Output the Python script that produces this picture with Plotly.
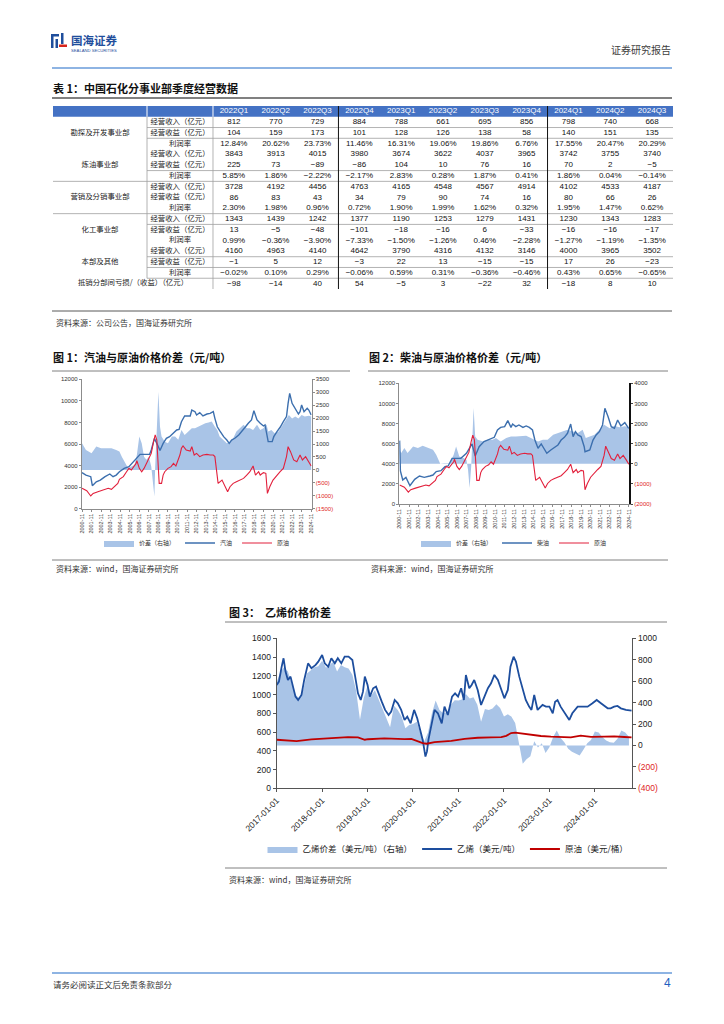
import plotly.graph_objects as go
import pandas as pd

# ======================= DATA =======================
# ---- Table 1 ----
quarters = ["2022Q1", "2022Q2", "2022Q3", "2022Q4", "2023Q1", "2023Q2", "2023Q3",
            "2023Q4", "2024Q1", "2024Q2", "2024Q3"]
segments = ["勘探及开发事业部", "炼油事业部", "营销及分销事业部", "化工事业部", "本部及其他"]
metrics = ["经营收入（亿元）", "经营收益（亿元）", "利润率"]

ep_rev = [812, 770, 729, 884, 788, 661, 695, 856, 798, 740, 668]
ep_profit = [104, 159, 173, 101, 128, 126, 138, 58, 140, 151, 135]
ep_margin = [12.84, 20.62, 23.73, 11.46, 16.31, 19.06, 19.86, 6.76, 17.55, 20.47, 20.29]

ref_rev = [3843, 3913, 4015, 3980, 3674, 3622, 4037, 3965, 3742, 3755, 3740]
ref_profit = [225, 73, -89, -86, 104, 10, 76, 16, 70, 2, -5]
ref_margin = [5.85, 1.86, -2.22, -2.17, 2.83, 0.28, 1.87, 0.41, 1.86, 0.04, -0.14]

mkt_rev = [3728, 4192, 4456, 4763, 4165, 4548, 4567, 4914, 4102, 4533, 4187]
mkt_profit = [86, 83, 43, 34, 79, 90, 74, 16, 80, 66, 26]
mkt_margin = [2.30, 1.98, 0.96, 0.72, 1.90, 1.99, 1.62, 0.32, 1.95, 1.47, 0.62]

chem_rev = [1343, 1439, 1242, 1377, 1190, 1253, 1279, 1431, 1230, 1343, 1283]
chem_profit = [13, -5, -48, -101, -18, -16, 6, -33, -16, -16, -17]
chem_margin = [0.99, -0.36, -3.90, -7.33, -1.50, -1.26, 0.46, -2.28, -1.27, -1.19, -1.35]

hq_rev = [4160, 4963, 4140, 4642, 3790, 4316, 4132, 3146, 4000, 3965, 3502]
hq_profit = [-1, 5, 12, -3, 22, 13, -15, -15, 17, 26, -23]
hq_margin = [-0.02, 0.10, 0.29, -0.06, 0.59, 0.31, -0.36, -0.46, 0.43, 0.65, -0.65]

elim_label = "抵销分部间亏损/（收益）（亿元）"
elim_vals = [-98, -14, 40, 54, -5, 3, -22, 32, -18, 8, 10]

# ---- Figure 1 / 2 (元/吨) ----
gasoline = [("2000-11", 3340), ("2001-04", 3120), ("2001-10", 2970), ("2001-12", 2130),
            ("2002-05", 2500), ("2002-10", 2660), ("2003-04", 2970), ("2003-10", 3220),
            ("2004-02", 2970), ("2004-06", 3120), ("2004-10", 3430), ("2005-04", 3740),
            ("2005-10", 3900), ("2006-04", 4360), ("2006-08", 4670), ("2006-12", 5040),
            ("2007-06", 5040), ("2007-12", 5040), ("2008-02", 5440), ("2008-06", 6520),
            ("2008-10", 5900), ("2009-01", 5400), ("2009-05", 6060), ("2009-09", 6530),
            ("2010-01", 6680), ("2010-06", 6990), ("2010-10", 7300), ("2011-01", 7360),
            ("2011-04", 8070), ("2011-08", 8600), ("2012-03", 8600), ("2012-05", 9150),
            ("2012-09", 9000), ("2012-11", 8690), ("2013-03", 8910), ("2013-07", 8600),
            ("2013-12", 8780), ("2014-04", 8840), ("2014-08", 9000), ("2014-10", 8380),
            ("2015-01", 7600), ("2015-04", 7240), ("2015-09", 6680), ("2016-01", 6370),
            ("2016-04", 6060), ("2016-07", 6370), ("2016-11", 6530), ("2017-04", 6840),
            ("2017-08", 7150), ("2017-12", 7550), ("2018-04", 7920), ("2018-08", 8230),
            ("2018-11", 9090), ("2019-03", 8230), ("2019-07", 7920), ("2019-11", 7670),
            ("2020-01", 7770), ("2020-03", 7050), ("2020-05", 6220), ("2020-10", 6220),
            ("2020-12", 6680), ("2021-04", 7150), ("2021-08", 7550), ("2021-12", 8070),
            ("2022-04", 8540), ("2022-06", 9770), ("2022-08", 10700), ("2022-11", 9770),
            ("2023-03", 9310), ("2023-07", 8780), ("2023-09", 9000), ("2023-11", 9620),
            ("2024-02", 9000), ("2024-06", 9310), ("2024-08", 9150), ("2024-11", 8690)]

crude_cny = [("2000-11", 1890), ("2001-05", 1670), ("2001-10", 1180), ("2002-01", 1420),
             ("2002-07", 1580), ("2003-01", 1730), ("2003-08", 1890), ("2003-12", 1800),
             ("2004-04", 2040), ("2004-08", 2350), ("2004-10", 2720), ("2005-03", 2970),
             ("2005-07", 3430), ("2005-10", 3740), ("2006-01", 3590), ("2006-04", 3900),
             ("2006-07", 4200), ("2006-08", 4450), ("2006-11", 3740), ("2007-02", 3430),
             ("2007-05", 3740), ("2007-08", 4200), ("2007-10", 4520), ("2008-02", 5130),
             ("2008-05", 6220), ("2008-07", 6840), ("2008-09", 6370), ("2008-10", 4670),
             ("2008-12", 2350), ("2009-03", 2350), ("2009-05", 3120), ("2009-07", 3430),
             ("2009-11", 3740), ("2010-03", 3900), ("2010-06", 4200), ("2010-09", 3960),
             ("2010-12", 4520), ("2011-02", 4980), ("2011-04", 5600), ("2011-06", 5820),
             ("2011-10", 5440), ("2012-03", 5350), ("2012-05", 5750), ("2012-08", 4980),
             ("2012-11", 5130), ("2013-03", 4830), ("2013-07", 4980), ("2013-12", 5040),
             ("2014-04", 4980), ("2014-08", 4980), ("2014-10", 4830), ("2014-12", 3280),
             ("2015-02", 2350), ("2015-07", 2660), ("2015-11", 2040), ("2016-02", 1580),
             ("2016-05", 2040), ("2016-09", 2350), ("2017-01", 2500), ("2017-05", 2660),
             ("2017-10", 2810), ("2018-02", 3120), ("2018-06", 3430), ("2018-10", 3960),
             ("2019-01", 3120), ("2019-05", 3430), ("2019-07", 3120), ("2019-11", 3340),
             ("2020-02", 3280), ("2020-04", 1420), ("2020-07", 2040), ("2020-11", 2660),
             ("2021-04", 3120), ("2021-08", 3430), ("2021-12", 3740), ("2022-04", 4830),
             ("2022-06", 5750), ("2022-09", 5290), ("2023-01", 4520), ("2023-05", 4360),
             ("2023-09", 4980), ("2023-12", 4520), ("2024-04", 4830), ("2024-08", 4360),
             ("2024-11", 3960)]

gas_spread = [("2000-11", 1030), ("2001-04", 770), ("2001-11", 640), ("2002-05", 900),
              ("2002-11", 840), ("2003-05", 840), ("2003-12", 840), ("2004-06", 770),
              ("2004-10", 710), ("2005-01", 510), ("2005-05", 260), ("2005-09", 60),
              ("2006-01", 130), ("2006-05", 190), ("2006-08", 580), ("2006-11", 1290),
              ("2007-02", 1030), ("2007-05", 510), ("2007-08", 390), ("2007-11", 510),
              ("2008-02", 130), ("2008-04", -510), ("2008-06", -1030), ("2008-07", 130),
              ("2008-09", 1800), ("2008-11", 3020), ("2009-01", 1670), ("2009-03", 1290),
              ("2009-07", 1090), ("2009-11", 1030), ("2010-04", 1290), ("2010-08", 1290),
              ("2010-12", 1160), ("2011-04", 1540), ("2011-08", 1350), ("2012-01", 1480),
              ("2012-05", 1610), ("2012-09", 1610), ("2013-01", 1670), ("2013-05", 1740),
              ("2013-10", 1800), ("2014-02", 1830), ("2014-06", 1870), ("2014-10", 1670),
              ("2015-01", 1540), ("2015-04", 1290), ("2015-09", 1160), ("2016-01", 1030),
              ("2016-05", 1090), ("2016-09", 1220), ("2017-01", 1480), ("2017-05", 1610),
              ("2017-10", 1740), ("2018-02", 1610), ("2018-06", 1610), ("2018-10", 1540),
              ("2019-03", 1740), ("2019-07", 1540), ("2019-11", 1610), ("2020-03", 1740),
              ("2020-05", 1480), ("2020-09", 1540), ("2021-01", 1420), ("2021-06", 1480),
              ("2021-10", 1670), ("2022-02", 1870), ("2022-07", 2120), ("2022-11", 1990),
              ("2023-03", 2060), ("2023-07", 1990), ("2023-11", 2120), ("2024-03", 2060),
              ("2024-08", 2090), ("2024-11", 2060)]

diesel = [("2000-11", 6300), ("2000-12", 3300), ("2001-03", 2390), ("2001-07", 2650),
          ("2001-12", 1820), ("2002-06", 2450), ("2002-12", 2780), ("2003-06", 2650),
          ("2004-01", 2780), ("2004-05", 2880), ("2004-09", 3220), ("2005-03", 3310),
          ("2005-08", 3710), ("2005-12", 3780), ("2006-05", 4540), ("2006-10", 4540),
          ("2007-04", 4540), ("2007-11", 5040), ("2008-03", 5540), ("2008-06", 5970),
          ("2008-10", 4770), ("2009-03", 5700), ("2009-09", 6200), ("2010-04", 6430),
          ("2010-10", 6630), ("2011-02", 7360), ("2011-06", 7620), ("2011-11", 7690),
          ("2012-03", 8290), ("2012-07", 7620), ("2012-09", 7950), ("2013-01", 7690),
          ("2013-05", 7860), ("2013-10", 7620), ("2014-02", 7760), ("2014-06", 7620),
          ("2014-10", 7360), ("2015-01", 6360), ("2015-05", 5540), ("2015-09", 5970),
          ("2016-01", 5370), ("2016-04", 5040), ("2016-09", 5370), ("2017-02", 5700),
          ("2017-06", 5870), ("2017-10", 6360), ("2018-02", 6630), ("2018-06", 7030),
          ("2018-10", 7950), ("2019-01", 6700), ("2019-04", 7190), ("2019-07", 6860),
          ("2019-11", 6700), ("2020-03", 5700), ("2020-04", 5200), ("2020-10", 5370),
          ("2021-02", 6360), ("2021-06", 6860), ("2021-10", 7190), ("2022-02", 7860),
          ("2022-05", 9510), ("2022-09", 8680), ("2023-01", 7690), ("2023-05", 7520),
          ("2023-09", 8350), ("2024-01", 7760), ("2024-06", 8090), ("2024-10", 7620),
          ("2024-11", 7520)]

diesel_spread = [("2000-11", 700), ("2001-01", 530), ("2001-05", 780), ("2001-09", 530),
                 ("2002-04", 860), ("2002-10", 780), ("2003-04", 900), ("2003-11", 780),
                 ("2004-05", 700), ("2004-09", 450), ("2004-12", 170), ("2005-02", 0),
                 ("2005-07", 20), ("2006-02", 30), ("2006-07", 450), ("2006-10", 860),
                 ("2007-02", 360), ("2007-08", 280), ("2007-11", 200), ("2008-01", -300),
                 ("2008-03", -1210), ("2008-05", -130), ("2008-08", 2770), ("2008-10", 1360),
                 ("2009-01", 1190), ("2009-08", 1110), ("2010-02", 1190), ("2010-08", 1190),
                 ("2010-12", 1280), ("2011-06", 1110), ("2012-01", 1280), ("2012-07", 1360),
                 ("2013-01", 1360), ("2013-08", 1390), ("2014-02", 1390), ("2014-08", 1280),
                 ("2014-12", 1190), ("2015-05", 1110), ("2015-11", 1190), ("2016-05", 1190),
                 ("2016-12", 1440), ("2017-06", 1530), ("2017-12", 1610), ("2018-06", 1690),
                 ("2019-01", 1610), ("2019-07", 1530), ("2020-01", 1690), ("2020-05", 1280),
                 ("2020-10", 1360), ("2021-04", 1440), ("2021-10", 1690), ("2022-04", 1940),
                 ("2022-11", 1770), ("2023-05", 1890), ("2023-11", 1820), ("2024-06", 1860),
                 ("2024-11", 1820)]

fig12_ticks = [str(y) for y in range(2000, 2025)]

# ---- Figure 3 (乙烯) ----
ethylene = [("2017-01-01", 1102), ("2017-01-19", 1138), ("2017-02-10", 1298), ("2017-02-25", 1387),
            ("2017-03-13", 1245), ("2017-04-01", 1156), ("2017-04-22", 1191), ("2017-05-13", 1067),
            ("2017-06-01", 978), ("2017-06-22", 942), ("2017-07-19", 996), ("2017-08-10", 1156),
            ("2017-09-10", 1333), ("2017-10-07", 1280), ("2017-11-10", 1316), ("2017-12-01", 1351),
            ("2018-01-01", 1422), ("2018-01-22", 1333), ("2018-02-19", 1298), ("2018-03-16", 1387),
            ("2018-04-13", 1333), ("2018-05-07", 1387), ("2018-06-04", 1333), ("2018-07-01", 1404),
            ("2018-08-01", 1404), ("2018-09-01", 1369), ("2018-09-25", 1156), ("2018-10-16", 1013),
            ("2018-11-07", 942), ("2018-11-25", 1031), ("2018-12-10", 1191), ("2019-01-01", 1102),
            ("2019-01-19", 978), ("2019-02-15", 1067), ("2019-03-10", 1085), ("2019-04-01", 996),
            ("2019-04-25", 924), ("2019-05-22", 836), ("2019-06-19", 782), ("2019-07-10", 818),
            ("2019-08-07", 942), ("2019-09-01", 907), ("2019-09-28", 836), ("2019-10-25", 729),
            ("2019-11-16", 764), ("2019-12-13", 693), ("2020-01-10", 836), ("2020-02-04", 747),
            ("2020-02-25", 622), ("2020-03-19", 516), ("2020-04-10", 338), ("2020-04-22", 391),
            ("2020-05-04", 516), ("2020-05-25", 658), ("2020-06-22", 836), ("2020-07-19", 800),
            ("2020-08-19", 693), ("2020-09-10", 871), ("2020-10-07", 782), ("2020-11-10", 978),
            ("2020-12-04", 1013), ("2020-12-28", 978), ("2021-01-22", 1067), ("2021-02-13", 942),
            ("2021-03-01", 1209), ("2021-03-28", 1067), ("2021-04-16", 1102), ("2021-05-07", 1156),
            ("2021-06-04", 1049), ("2021-07-01", 889), ("2021-07-28", 978), ("2021-08-25", 1067),
            ("2021-09-19", 1120), ("2021-10-16", 1209), ("2021-11-13", 1156), ("2021-12-10", 1049),
            ("2022-01-04", 960), ("2022-02-01", 1049), ("2022-02-22", 1298), ("2022-03-19", 1404),
            ("2022-04-07", 1351), ("2022-05-04", 1191), ("2022-06-01", 1049), ("2022-06-25", 942),
            ("2022-07-22", 871), ("2022-08-10", 836), ("2022-09-01", 996), ("2022-09-28", 836),
            ("2022-11-07", 889), ("2022-12-04", 871), ("2023-01-01", 871), ("2023-01-28", 800),
            ("2023-02-16", 924), ("2023-03-07", 942), ("2023-04-01", 871), ("2023-05-04", 800),
            ("2023-06-10", 729), ("2023-07-04", 800), ("2023-08-16", 871), ("2023-09-25", 871),
            ("2023-11-04", 871), ("2023-12-13", 907), ("2024-01-16", 942), ("2024-02-19", 907),
            ("2024-03-16", 878), ("2024-04-13", 853), ("2024-05-07", 853), ("2024-06-04", 871),
            ("2024-07-01", 878), ("2024-07-28", 853), ("2024-09-07", 836), ("2024-10-22", 828)]

crude_usd = [("2017-01-01", 53), ("2017-06-10", 41), ("2017-10-07", 56), ("2018-01-22", 62),
             ("2018-05-07", 72), ("2018-07-28", 78), ("2018-10-16", 75), ("2018-12-10", 53),
             ("2019-01-04", 58), ("2019-05-16", 66), ("2019-10-25", 59), ("2019-12-19", 60),
             ("2020-03-19", 22), ("2020-04-20", 16), ("2020-06-22", 31), ("2020-11-04", 42),
             ("2021-02-19", 62), ("2021-06-04", 72), ("2021-09-19", 75), ("2021-12-10", 78),
             ("2022-01-19", 90), ("2022-02-28", 116), ("2022-04-01", 119), ("2022-05-16", 112),
             ("2022-08-07", 96), ("2022-10-25", 88), ("2023-01-13", 82), ("2023-04-04", 80),
             ("2023-06-22", 76), ("2023-09-10", 92), ("2023-12-01", 80), ("2024-03-16", 82),
             ("2024-06-04", 84), ("2024-08-25", 79), ("2024-10-22", 75)]

ethylene_spread_monthly = [594, 688, 730, 690, 580, 470, 440, 516, 672, 703,
                           730, 740, 790, 725, 750, 780, 690, 750, 730, 719,
                           660, 510, 240, 440, 560, 469, 516, 430, 335, 266,
                           170, 370, 330, 270, 160, 190, 200, 220, 110, 40,
                           120, 300, 420, 330, 300, 310, 380, 422, 420, 430,
                           480, 438, 450, 380, 220, 340, 330, 344, 385, 350,
                           270, 290, 270, 210, 20, -170, -130, -100, 40, -20,
                           20, -70, -16, 80, 140, 70, 30, -30, -60, -78,
                           -94, -40, 20, 50, 130, 120, 78, 47, 30, 25,
                           62, 140, 120, 80]
ethylene_spread_start = "2017-01-01"
fig3_ticks = ["2017-01-01", "2018-01-01", "2019-01-01", "2020-01-01",
              "2021-01-01", "2022-01-01", "2023-01-01", "2024-01-01"]

# ======================= STYLE / LAYOUT =======================
W, H = 724, 1024
OFF = 8  # the page body offsets the figure by its default margin
def px(x): return (x - OFF) / W
def py(y): return 1 - (y - OFF) / H

FONT = "Liberation Sans, Noto Sans CJK SC, sans-serif"
CJK = "Noto Sans CJK SC, Liberation Sans, sans-serif"
RED_TXT = "#E02424"
AREA = "#A9C4E7"
BLUE12 = "#3C6FAE"
RED12 = "#E2203C"
BLUE3 = "#1D4E9E"
RED3 = "#C00000"

def unzip(pairs):
    return [p[0] for p in pairs], [p[1] for p in pairs]

def red_paren(v):
    if v < 0:
        return '<span style="color:%s">(%d)</span>' % (RED_TXT, -v)
    return str(v)

fig = go.Figure()

# ---------------- Figure 1 ----------------
d, v = unzip(gas_spread)
fig.add_trace(go.Scatter(x=d, y=v, xaxis="x", yaxis="y", mode="lines", fill="tozeroy",
                         line=dict(width=0, color=AREA), fillcolor=AREA,
                         name="价差（右轴）", legend="legend"))
d, v = unzip(gasoline)
fig.add_trace(go.Scatter(x=d, y=v, xaxis="x", yaxis="y2", mode="lines",
                         line=dict(width=1.4, color=BLUE12), name="汽油", legend="legend"))
d, v = unzip(crude_cny)
fig.add_trace(go.Scatter(x=d, y=v, xaxis="x", yaxis="y2", mode="lines",
                         line=dict(width=1.1, color=RED12), name="原油", legend="legend"))

# ---------------- Figure 2 ----------------
d, v = unzip(diesel_spread)
fig.add_trace(go.Scatter(x=d, y=v, xaxis="x2", yaxis="y3", mode="lines", fill="tozeroy",
                         line=dict(width=0, color=AREA), fillcolor=AREA,
                         name="价差（右轴）", legend="legend2"))
d, v = unzip(diesel)
fig.add_trace(go.Scatter(x=d, y=v, xaxis="x2", yaxis="y4", mode="lines",
                         line=dict(width=1.4, color=BLUE12), name="柴油", legend="legend2"))
d, v = unzip(crude_cny)
fig.add_trace(go.Scatter(x=d, y=v, xaxis="x2", yaxis="y4", mode="lines",
                         line=dict(width=1.1, color=RED12), name="原油", legend="legend2"))

# ---------------- Figure 3 ----------------
sp_dates = pd.date_range(ethylene_spread_start, periods=len(ethylene_spread_monthly), freq="MS")
fig.add_trace(go.Scatter(x=sp_dates, y=ethylene_spread_monthly, xaxis="x3", yaxis="y5",
                         mode="lines", fill="tozeroy", line=dict(width=0, color=AREA),
                         fillcolor=AREA, name="乙烯价差（美元/吨）（右轴）", legend="legend3"))
d, v = unzip(ethylene)
fig.add_trace(go.Scatter(x=d, y=v, xaxis="x3", yaxis="y6", mode="lines",
                         line=dict(width=1.8, color=BLUE3), name="乙烯（美元/吨）", legend="legend3"))
d, v = unzip(crude_usd)
fig.add_trace(go.Scatter(x=d, y=v, xaxis="x3", yaxis="y7", mode="lines",
                         line=dict(width=1.8, color=RED3), name="原油（美元/桶）", legend="legend3"))

# ---------------- Table ----------------
col_w = [94, 66] + [41.82] * len(quarters)
edges = [0]
for w in col_w:
    edges.append(edges[-1] + w)
centers = [(edges[i] + edges[i + 1]) / 2 for i in range(len(col_w))]
qc = centers[2:]

def fmt_int(n):
    return ("−%d" % -n) if n < 0 else "%d" % n

def fmt_pct(p):
    return ("−%.2f%%" % -p) if p < 0 else "%.2f%%" % p

seg_data = [(ep_rev, ep_profit, ep_margin), (ref_rev, ref_profit, ref_margin),
            (mkt_rev, mkt_profit, mkt_margin), (chem_rev, chem_profit, chem_margin),
            (hq_rev, hq_profit, hq_margin)]

vx, vy, vt = [], [], []
lx, ly, lt = [], [], []
for si, (rev, prof, marg) in enumerate(seg_data):
    base = 1 + si * 3
    lx.append(centers[0]); ly.append(base + 1.5); lt.append(segments[si])
    for mi, series in enumerate((rev, prof, marg)):
        r = base + mi
        lx.append(centers[1]); ly.append(r + 0.5); lt.append(metrics[mi])
        for qi, val in enumerate(series):
            vx.append(qc[qi]); vy.append(r + 0.5)
            vt.append(fmt_pct(val) if mi == 2 else fmt_int(val))
last_row = 1 + len(segments) * 3
lx.append((edges[0] + edges[2]) / 2); ly.append(last_row + 0.5); lt.append(elim_label)
for qi, val in enumerate(elim_vals):
    vx.append(qc[qi]); vy.append(last_row + 0.5); vt.append(fmt_int(val))

fig.add_trace(go.Scatter(x=qc, y=[0.5] * len(quarters), text=quarters, mode="text",
                         xaxis="x4", yaxis="y8", showlegend=False, hoverinfo="skip",
                         textfont=dict(family=FONT, size=8, color="white")))
fig.add_trace(go.Scatter(x=vx, y=vy, text=vt, mode="text", xaxis="x4", yaxis="y8",
                         showlegend=False, hoverinfo="skip",
                         textfont=dict(family=FONT, size=8, color="#111111")))
fig.add_trace(go.Scatter(x=lx, y=ly, text=lt, mode="text", xaxis="x4", yaxis="y8",
                         showlegend=False, hoverinfo="skip",
                         textfont=dict(family=CJK, size=7.4, color="#222222")))

# ---------------- Axes ----------------
axis_common = dict(showgrid=False, zeroline=False, showline=True, linecolor="#8c8c8c",
                   linewidth=0.8, ticks="outside", ticklen=2, tickcolor="#8c8c8c")

x12_vals = [t + "-11-01" for t in fig12_ticks]
x12_text = [t + "-11" for t in fig12_ticks]

layout = dict(
    width=W, height=H, margin=dict(l=0, r=0, t=0, b=0, pad=0, autoexpand=False),
    paper_bgcolor="white", plot_bgcolor="white", hovermode=False,
    font=dict(family=FONT, size=7, color="#333333"),
    # fig 1
    xaxis=dict(domain=[px(81.7), px(311.7)], anchor="y", type="date",
               range=["2000-10-20", "2024-11-20"], tickvals=x12_vals, ticktext=x12_text,
               tickangle=-90, tickfont=dict(size=5.5), **axis_common),
    yaxis=dict(domain=[py(508.7), py(379.3)], anchor="x", side="right",
               range=[-1500, 3500], tickvals=list(range(-1500, 3501, 500)),
               ticktext=[red_paren(t) for t in range(-1500, 3501, 500)],
               tickfont=dict(size=6), **axis_common),
    yaxis2=dict(domain=[py(508.7), py(379.3)], anchor="x", overlaying="y", side="left",
                range=[0, 12000], dtick=2000, tickformat="d", tickfont=dict(size=6),
                **axis_common),
    # fig 2
    xaxis2=dict(domain=[px(399.3), px(629.3)], anchor="y3", type="date",
                range=["2000-10-20", "2024-11-20"], tickvals=x12_vals, ticktext=x12_text,
                tickangle=-90, tickfont=dict(size=5.5), **axis_common),
    yaxis3=dict(domain=[py(504), py(383.3)], anchor="x2", side="right",
                range=[-2000, 4000], tickvals=list(range(-2000, 4001, 1000)),
                ticktext=[red_paren(t) for t in range(-2000, 4001, 1000)],
                tickfont=dict(size=6), showgrid=False, zeroline=False, showline=True,
                linecolor="#111111", linewidth=1.5, ticks="outside", ticklen=2,
                tickcolor="#444444"),
    yaxis4=dict(domain=[py(504), py(383.3)], anchor="x2", overlaying="y3", side="left",
                range=[0, 12000], dtick=2000, tickformat="d", tickfont=dict(size=6),
                **axis_common),
    # fig 3
    xaxis3=dict(domain=[px(276.7), px(632.3)], anchor="y5", type="date",
                range=["2017-01-01", "2024-10-28"], tickvals=fig3_ticks, ticktext=fig3_ticks,
                tickangle=-45, tickfont=dict(size=8.5, color="#222222"),
                showgrid=False, zeroline=False, showline=True, linecolor="#555555",
                linewidth=1, ticks="outside", ticklen=3, tickcolor="#555555"),
    yaxis5=dict(domain=[py(788.3), py(638.3)], anchor="x3", side="right",
                range=[-400, 1000], tickvals=list(range(-400, 1001, 200)),
                ticktext=[red_paren(t) for t in range(-400, 1001, 200)],
                tickfont=dict(size=8.5, color="#222222"), showgrid=False, zeroline=False,
                showline=True, linecolor="#555555", linewidth=1, ticks="outside",
                ticklen=3, tickcolor="#555555"),
    yaxis6=dict(domain=[py(788.3), py(638.3)], anchor="x3", overlaying="y5", side="left",
                range=[0, 1600], dtick=200, tickformat="d",
                tickfont=dict(size=8.5, color="#222222"), showgrid=False, zeroline=False,
                showline=True, linecolor="#555555", linewidth=1, ticks="outside",
                ticklen=3, tickcolor="#555555"),
    yaxis7=dict(domain=[py(788.3), py(638.3)], anchor="x3", overlaying="y5", side="right",
                range=[-400, 1000], visible=False),
    # table
    xaxis4=dict(domain=[px(53), px(673)], anchor="y8", range=[0, edges[-1]], visible=False),
    yaxis8=dict(domain=[py(289), py(106)], anchor="x4", range=[17, 0], visible=False),
    # legends
    legend=dict(x=px(197), y=py(543), xanchor="center", yanchor="middle",
                orientation="h", font=dict(family=CJK, size=6, color="#333333"),
                bgcolor="rgba(0,0,0,0)", itemwidth=30),
    legend2=dict(x=px(514), y=py(543), xanchor="center", yanchor="middle",
                 orientation="h", font=dict(family=CJK, size=6, color="#333333"),
                 bgcolor="rgba(0,0,0,0)", itemwidth=30),
    legend3=dict(x=px(448), y=py(849), xanchor="center", yanchor="middle",
                 orientation="h", font=dict(family=CJK, size=8.5, color="#222222"),
                 bgcolor="rgba(0,0,0,0)", itemwidth=30),
)
fig.update_layout(**layout)

# ---------------- Shapes ----------------
shapes = []
def pline(x0, y0, x1, y1, color, width):
    shapes.append(dict(type="line", xref="paper", yref="paper", x0=px(x0), y0=py(y0),
                       x1=px(x1), y1=py(y1), line=dict(color=color, width=width)))
def prect(x0, y0, x1, y1, color):
    shapes.append(dict(type="rect", xref="paper", yref="paper", x0=px(x0), y0=py(y0),
                       x1=px(x1), y1=py(y1), fillcolor=color, line=dict(width=0)))

# page header / footer
pline(52, 68, 672, 68, "#8EB4E3", 2)
pline(52, 973, 672, 973, "#8EB4E3", 2)
# logo glyph
LB, LR = "#1F4E9C", "#D7261E"
prect(51, 34, 53.5, 48, LB)
prect(51, 34, 59, 36.5, LB)
prect(55.5, 39, 58, 48, LB)
prect(61, 33, 63.5, 44, LB)
prect(59, 44.5, 67, 47, LR)
# section rules
pline(52, 98, 672, 98, "#808080", 1.8)
pline(52, 311, 672, 311, "#595959", 1)
pline(52, 371, 350, 371, "#808080", 1)
pline(368, 371, 668, 371, "#808080", 1)
pline(52, 560, 668, 560, "#808080", 1)
pline(225, 622, 667, 622, "#808080", 1)
pline(225, 868, 667, 868, "#808080", 1)

# table header fill & grid
shapes.append(dict(type="rect", xref="x4", yref="y8", x0=0, x1=edges[-1], y0=0, y1=1,
                   fillcolor="#4472C4", line=dict(width=0), layer="below"))
for xe in (edges[1], edges[2]):
    shapes.append(dict(type="line", xref="x4", yref="y8", x0=xe, x1=xe, y0=0, y1=1,
                       line=dict(color="white", width=1)))
hrules = [(2, edges[1]), (3, edges[1]), (6, edges[1]), (7, 0), (10, 0), (11, edges[1]),
          (14, edges[1]), (15, edges[1]), (16, edges[1])]
for yv, x0 in hrules:
    shapes.append(dict(type="line", xref="x4", yref="y8", x0=x0, x1=edges[-1], y0=yv, y1=yv,
                       line=dict(color="#A0A0A0", width=0.8)))
shapes.append(dict(type="line", xref="x4", yref="y8", x0=edges[1], x1=edges[1], y0=1, y1=16,
                   line=dict(color="#A0A0A0", width=0.8)))
shapes.append(dict(type="line", xref="x4", yref="y8", x0=edges[2], x1=edges[2], y0=1, y1=17,
                   line=dict(color="#A0A0A0", width=0.8)))
for qi in (3, 8):
    xe = edges[2 + qi]
    shapes.append(dict(type="line", xref="x4", yref="y8", x0=xe, x1=xe, y0=0, y1=17,
                       line=dict(color="#111111", width=1)))
fig.update_layout(shapes=shapes)

# ---------------- Annotations ----------------
ann = []
def text(x, y, s, size, color="#222222", bold=False, anchor="left", family=CJK):
    ann.append(dict(x=px(x), y=py(y), xref="paper", yref="paper", showarrow=False,
                    xanchor=anchor, yanchor="middle", align=anchor, borderpad=0,
                    text=("<b>%s</b>" % s) if bold else s,
                    font=dict(family=family, size=size, color=color)))

text(70, 40, "国海证券", 11.5, LB, bold=True)
text(70, 50.5, "SEALAND SECURITIES", 4.2, LB, family=FONT)
text(672, 49, "证券研究报告", 10, "#404040", anchor="right")
text(52, 88, "表 1：中国石化分事业部季度经营数据", 11, "#111111", bold=True)
text(55, 322, "资料来源：公司公告，国海证券研究所", 8, "#333333")
text(52, 357, "图 1：汽油与原油价格价差（元/吨）", 11, "#111111", bold=True)
text(368, 357, "图 2：柴油与原油价格价差（元/吨）", 11, "#111111", bold=True)
text(55, 568, "资料来源：wind，国海证券研究所", 8, "#333333")
text(370, 568, "资料来源：wind，国海证券研究所", 8, "#333333")
text(228, 612, "图 3：  乙烯价格价差", 11, "#111111", bold=True)
text(228, 879, "资料来源：wind，国海证券研究所", 8, "#333333")
text(52, 984, "请务必阅读正文后免责条款部分", 8.5, "#333333")
text(672, 983, "4", 12, "#1F5FBF", anchor="right", family=FONT)
fig.update_layout(annotations=ann)

fig.write_html("out.html")
